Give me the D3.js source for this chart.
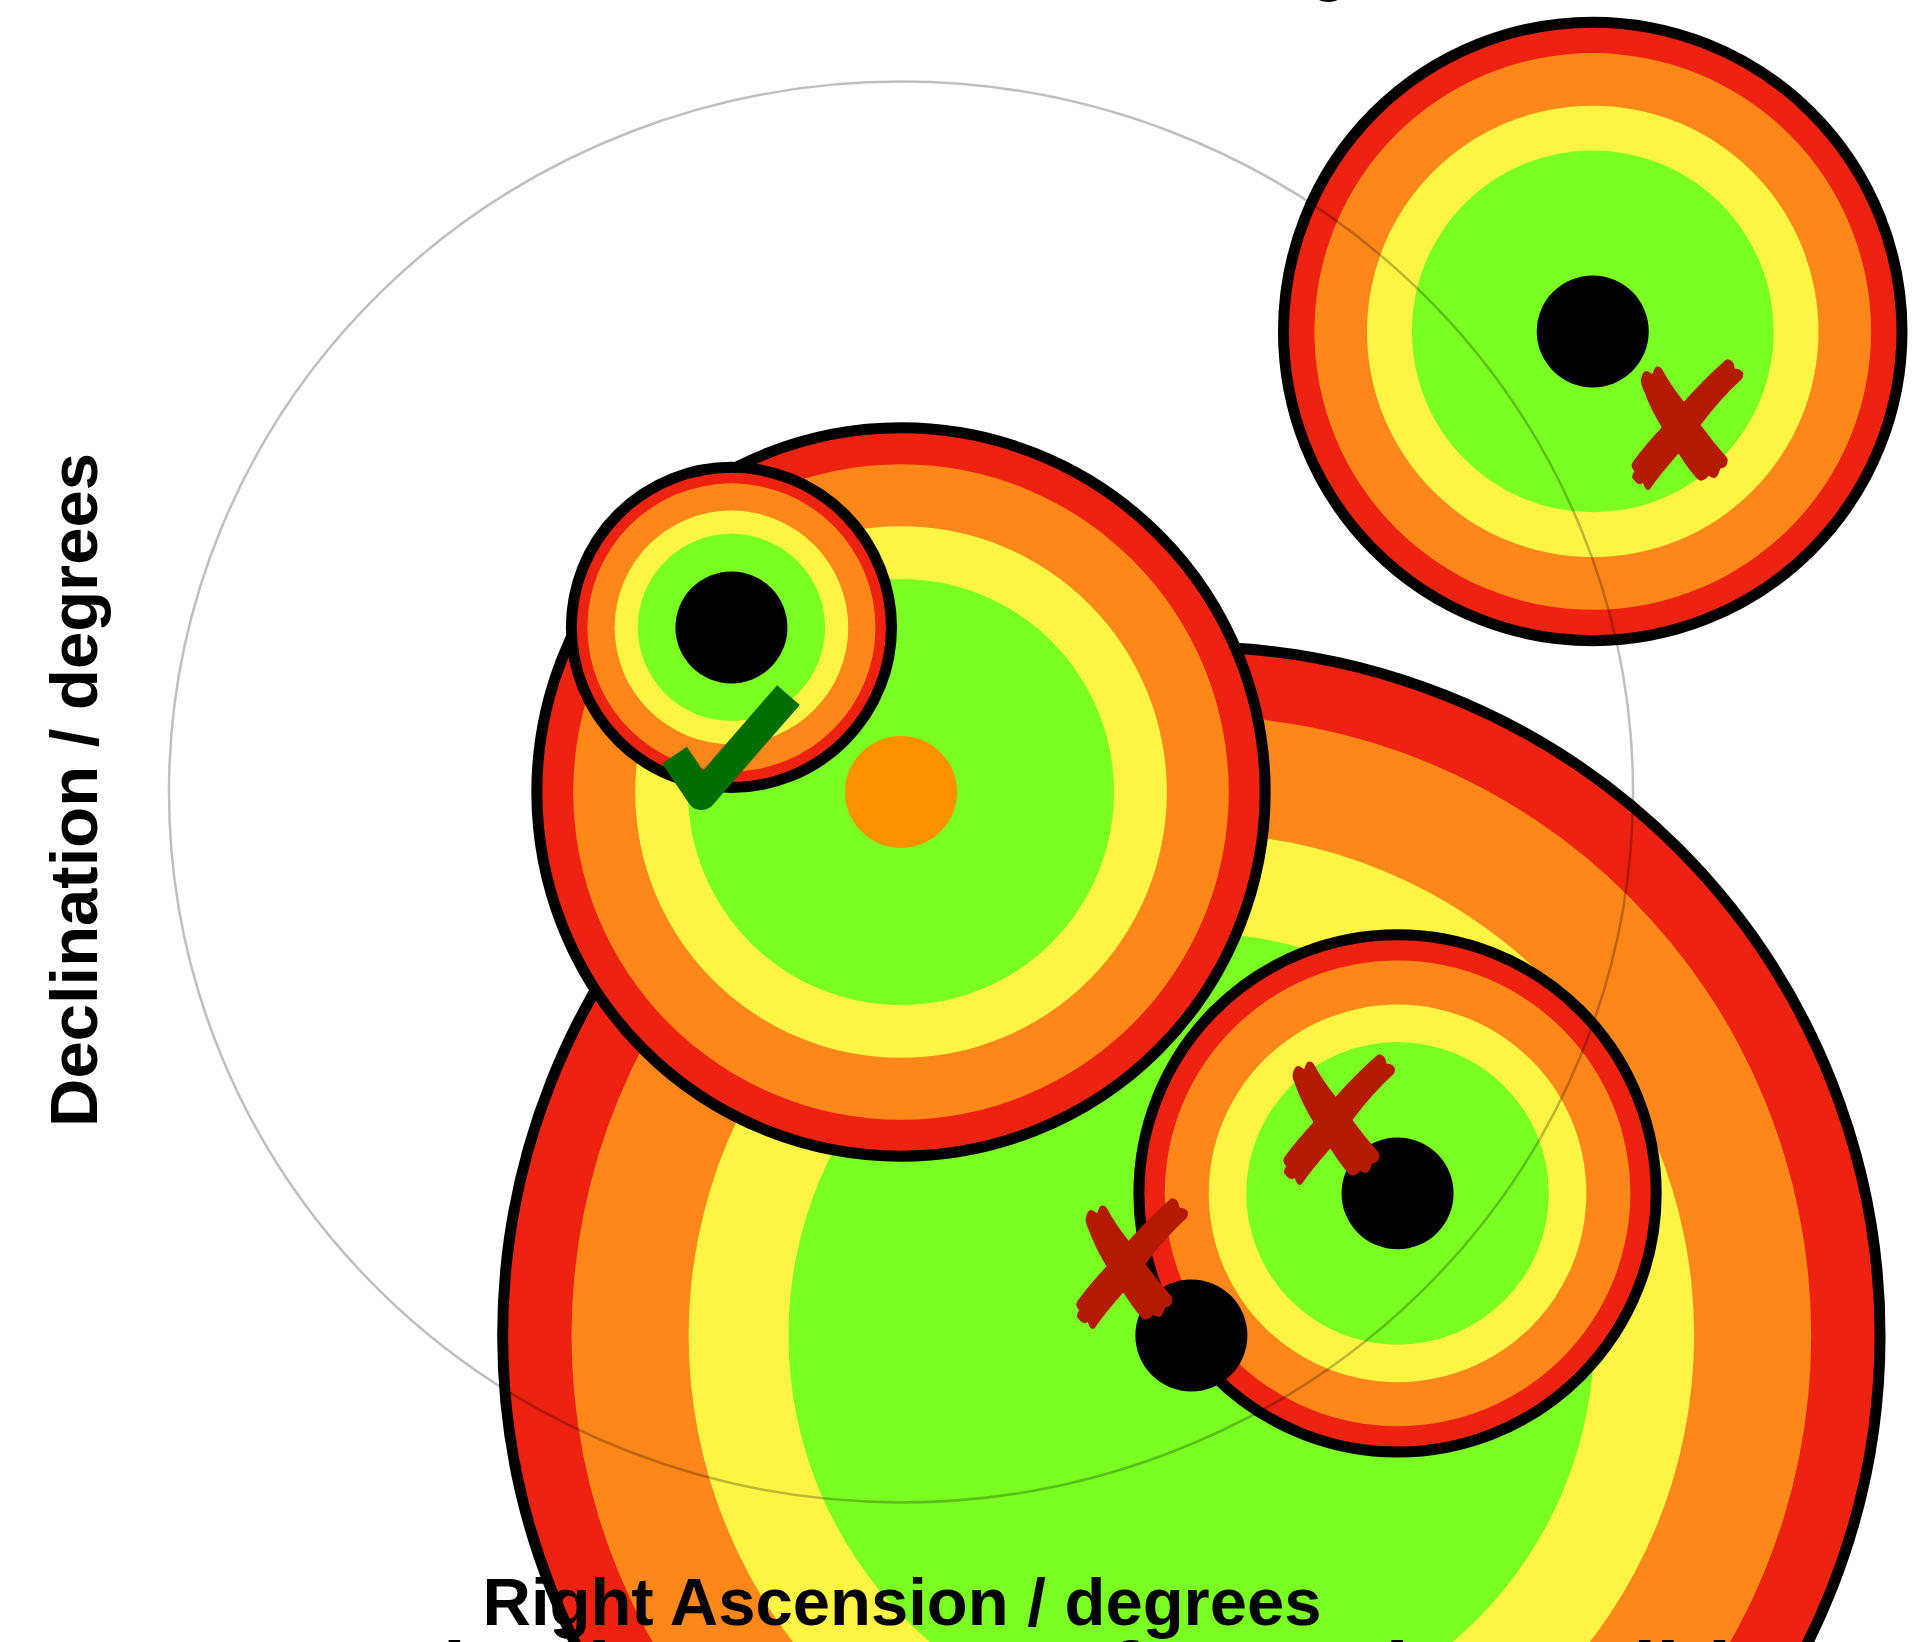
<!DOCTYPE html>
<html>
<head>
<meta charset="utf-8">
<script src="https://cdn.jsdelivr.net/npm/d3@7"></script>
<style>
  html, body { margin: 0; padding: 0; background: #ffffff; }
  svg { display: block; }
</style>
</head>
<body>
<svg id="chart" width="1920" height="1642"></svg>
<script>
// Telescope pointing centre and field-of-view radius (degrees)
const pointingRA = 150.000;
const pointingDec = 2.200;
const fovRadius = 0.6;

// Candidate stars: sky position (degrees) and reach radius (degrees)
const starNames = ["S5", "S3", "S4", "S1"];
const starRA    = [150.238, 149.861, 150.407, 150.567];
const starDec   = [1.741,   2.339,   1.861,   2.589];
const starReach = [0.5645,  0.1312,  0.2120,  0.2535];

// Reach radius drawn around the pointing itself (degrees)
const pointingReach = 0.2985;

// Concentric zones as fractions of the reach radius, outermost first
const zoneLevels = [1.0, 0.9, 0.73, 0.585];
const zoneColors = ["#ee2210", "#fd8719", "#fdf443", "#7bfe21"];

// Selection verdicts: where each verdict mark sits and whether the star passed
const verdictRA  = [149.8635, 150.6417, 150.3562, 150.1866];
const verdictDec = [2.2346,   2.5063,   1.9199,   1.7979];
const verdictOk  = [true,     false,    false,    false];

// Text
const titleText   = "Field of view and star coverage";
const xLabelText  = "Right Ascension / degrees";
const yLabelText  = "Declination / degrees";
const captionText = "Selection outcome for each candidate star in the field";

// ---------------------------------------------------------------
const svg = d3.select("#chart");

// Linear sky scales (RA stretched relative to Dec)
const x = d3.scaleLinear().domain([149.3, 150.7]).range([47, 1755]);
const y = d3.scaleLinear().domain([1.5, 2.9]).range([1620.8, -36.8]);
const r = d3.scaleLinear().domain([0, 1]).range([0, 1220]);

const stars = starNames.map((name, i) => ({
  name, ra: starRA[i], dec: starDec[i], reach: starReach[i]
}));
const pointingZone = { name: "P", ra: pointingRA, dec: pointingDec, reach: pointingReach };

// Drawing order: the large S5 zone first, then the pointing, then the others
const zoneOrder = [stars[0], pointingZone, stars[1], stars[2], stars[3]];

const zonesG = svg.append("g").attr("class", "zones");
zoneOrder.forEach(d => {
  const g = zonesG.append("g").attr("class", "zone zone-" + d.name);
  g.selectAll("circle")
    .data(zoneLevels.map((f, k) => ({ f, color: zoneColors[k], k })))
    .join("circle")
    .attr("cx", x(d.ra))
    .attr("cy", y(d.dec))
    .attr("r", z => r(d.reach * z.f))
    .attr("fill", z => z.color)
    .attr("stroke", z => z.k === 0 ? "#000" : "none")
    .attr("stroke-width", z => z.k === 0 ? 11 : 0);
});

// Field of view outline (a sky circle, so wider in RA)
svg.append("ellipse")
  .attr("cx", x(pointingRA))
  .attr("cy", y(pointingDec))
  .attr("rx", x(pointingRA + fovRadius) - x(pointingRA))
  .attr("ry", y(pointingDec) - y(pointingDec + fovRadius))
  .attr("fill", "none")
  .attr("stroke", "rgba(0,0,0,0.25)")
  .attr("stroke-width", 2.5);

// Star positions
const dotR = r(0.0459);
svg.append("g").attr("class", "stars")
  .selectAll("circle")
  .data(stars)
  .join("circle")
  .attr("cx", d => x(d.ra))
  .attr("cy", d => y(d.dec))
  .attr("r", dotR)
  .attr("fill", "#000");

// Pointing centre
svg.append("circle")
  .attr("cx", x(pointingRA))
  .attr("cy", y(pointingDec))
  .attr("r", dotR)
  .attr("fill", "#ff9200");

// Verdict marks: a brushed tick for accepted stars, a ballot cross for rejected ones
const verdicts = verdictOk.map((ok, i) => ({ ok, ra: verdictRA[i], dec: verdictDec[i] }));
const vg = svg.append("g").attr("class", "verdicts");

// Tick outline relative to the mark centre (short arm, corner, long arm)
const tickShape = [[-60, 4], [-33, 44], [54, -56]];
vg.selectAll("path.tick")
  .data(verdicts.filter(d => d.ok))
  .join("path")
  .attr("class", "tick")
  .attr("transform", d => `translate(${x(d.ra)},${y(d.dec)})`)
  .attr("d", d3.line()(tickShape))
  .attr("fill", "none")
  .attr("stroke", "#006e00")
  .attr("stroke-width", 30)
  .attr("stroke-linejoin", "round")
  .attr("stroke-linecap", "butt");

vg.selectAll("text.cross")
  .data(verdicts.filter(d => !d.ok))
  .join("text")
  .attr("class", "cross")
  .attr("x", d => x(d.ra))
  .attr("y", d => y(d.dec))
  .attr("text-anchor", "middle")
  .attr("dominant-baseline", "central")
  .attr("font-family", "'DejaVu Sans', sans-serif")
  .attr("font-size", 177)
  .attr("fill", "#b31a00")
  .text("\u2718");

// Labels
const labelFont = "'Liberation Sans', Arial, Helvetica, sans-serif";
svg.append("text")
  .attr("x", 896).attr("y", -12)
  .attr("text-anchor", "middle")
  .attr("font-family", labelFont)
  .attr("font-weight", "bold")
  .attr("font-size", 66)
  .text(titleText);

svg.append("text")
  .attr("x", 902).attr("y", 1625)
  .attr("text-anchor", "middle")
  .attr("font-family", labelFont)
  .attr("font-weight", "bold")
  .attr("font-size", 67)
  .text(xLabelText);

svg.append("text")
  .attr("transform", "translate(97,790) rotate(-90)")
  .attr("text-anchor", "middle")
  .attr("font-family", labelFont)
  .attr("font-weight", "bold")
  .attr("font-size", 67)
  .text(yLabelText);

// Caption below the axis label (runs past the lower edge)
svg.append("text")
  .attr("x", 340).attr("y", 1701)
  .attr("font-family", labelFont)
  .attr("font-weight", "bold")
  .attr("font-size", 84)
  .text(captionText);
</script>
</body>
</html>
